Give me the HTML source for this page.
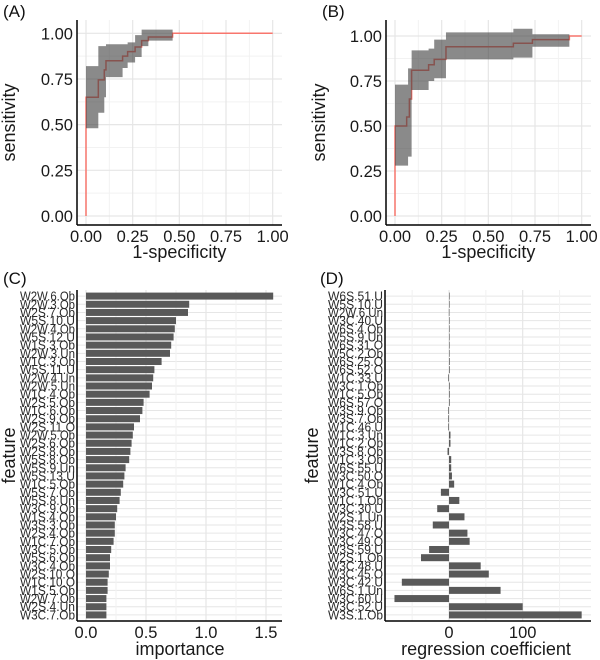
<!DOCTYPE html>
<html><head><meta charset="utf-8"><style>
body{margin:0;background:#fff}
svg{display:block;font-family:"Liberation Sans",sans-serif}
</style></head><body>
<svg id="s" width="600" height="660"></svg>
<script>
// ---- data ----
const rocA_fpr=[0,0,0.066,0.098,0.107,0.196,0.223,0.263,0.298,0.334,0.464,1.0];
const rocA_tpr=[0,0.65,0.745,0.80,0.85,0.875,0.90,0.925,0.96,0.98,1.0,1.0];
const bandA_x=[0,0.066,0.098,0.107,0.196,0.223,0.263,0.298,0.334,0.464];
const bandA_lo=[0.48,0.565,0.65,0.76,0.81,0.84,0.87,0.93,0.96];
const bandA_hi=[0.82,0.93,0.93,0.94,0.94,0.95,0.99,1.02,1.02];
const rocB_fpr=[0,0,0.0625,0.077,0.089,0.18,0.21,0.273,0.634,0.736,0.934,1.0];
const rocB_tpr=[0,0.50,0.55,0.65,0.81,0.84,0.87,0.94,0.96,0.98,1.0,1.0];
const bandB_x=[0,0.07,0.089,0.18,0.21,0.273,0.634,0.736,0.934];
const bandB_lo=[0.28,0.33,0.70,0.75,0.765,0.87,0.88,0.94];
const bandB_hi=[0.73,0.82,0.92,0.93,0.98,1.02,1.04,1.01];
const impNames=["W2W.6.Ob","W2W.3.Ob","W2S.7.Ob","W5S.10.U","W2W.4.Ob","W5S.12.U","W1S.3.Ob","W2W.3.Un","W1C.3.Ob","W5S.11.U","W2W.4.Un","W2W.5.Un","W1C.4.Ob","W2S.5.Ob","W1C.6.Ob","W2S.9.Ob","W2S.11.O","W2W.5.Ob","W2S.6.Ob","W2S.8.Ob","W5S.8.Ob","W5S.9.Un","W5S.13.U","W1C.5.Ob","W5S.7.Ob","W5S.8.Un","W3C.9.Ob","W1S.4.Ob","W3S.3.Ob","W2S.4.Ob","W1C.7.Ob","W3C.5.Ob","W5S.6.Ob","W3C.4.Ob","W2S.10.O","W1C.10.O","W1S.5.Ob","W2W.7.Ob","W2S.4.Un","W3C.7.Ob"];
const impVals=[1.56,0.86,0.85,0.75,0.74,0.73,0.71,0.70,0.63,0.57,0.56,0.55,0.53,0.48,0.47,0.45,0.40,0.39,0.38,0.37,0.36,0.33,0.32,0.31,0.29,0.28,0.26,0.25,0.24,0.24,0.23,0.21,0.20,0.20,0.19,0.18,0.18,0.17,0.17,0.17];
const impTicks=[0,0.5,1.0,1.5];
const impTickLabels=["0.0","0.5","1.0","1.5"];
const regNames=["W6S.51.U","W5S.10.U","W2W.6.Un","W3C.40.U","W6S.4.Ob","W5S.9.Un","W6S.31.O","W5C.2.Ob","W6S.25.O","W6S.52.O","W1C.33.U","W3C.1.Ob","W1C.5.Ob","W6S.57.O","W3S.9.Ob","W3S.7.Ob","W1C.46.U","W1C.3.Un","W1C.2.Ob","W3S.8.Ob","W1C.3.Ob","W6S.55.U","W3C.50.O","W1C.4.Ob","W3C.51.U","W1C.1.Ob","W3C.30.U","W2S.1.Un","W3S.58.U","W3C.47.O","W3C.49.O","W3S.59.U","W2S.1.Ob","W3C.48.U","W3C.45.O","W3C.42.U","W6S.1.Un","W3C.60.U","W3C.52.U","W3S.1.Ob"];
const regVals=[0.1,0.2,-0.2,0.2,0.3,0.3,0.5,0.5,1,1,-1,1,1,1,-1,-1,-1,2,2,-2,3,3,4,7,-11,14,-16,21,-22,25,28,-27,-38,43,54,-64,70,-74,100,180];
const regTicks=[0,100];
const regTickLabels=["0","100"];
const rocTicks=[0,0.25,0.5,0.75,1];
const rocTickLabels=["0.00","0.25","0.50","0.75","1.00"];

const NS="http://www.w3.org/2000/svg";
const svg=document.getElementById('s');
function mk(tag,attrs,parent,text){const e=document.createElementNS(NS,tag);for(const k in attrs)e.setAttribute(k,attrs[k]);if(text!==undefined)e.textContent=text;(parent||svg).appendChild(e);return e;}
const GRID="#e6e6e6",GRIDM="#f2f2f2";

function rocPanel(P){
  const g=mk('g',{});
  
  
  const sx=v=>P.x0+(P.x1-P.x0)*v, sy=v=>P.y0+(P.y1-P.y0)*v;
  for(let i=0;i<rocTicks.length-1;i++){const m=(rocTicks[i]+rocTicks[i+1])/2;
    mk('line',{x1:sx(m),x2:sx(m),y1:P.top,y2:P.bot,stroke:GRIDM,'stroke-width':1},g);
    mk('line',{x1:P.left,x2:P.right,y1:sy(m),y2:sy(m),stroke:GRIDM,'stroke-width':1},g);}
  rocTicks.forEach((t,i)=>{
    mk('line',{x1:sx(t),x2:sx(t),y1:P.top,y2:P.bot,stroke:GRID,'stroke-width':1.2},g);
    mk('line',{x1:P.left,x2:P.right,y1:sy(t),y2:sy(t),stroke:GRID,'stroke-width':1.2},g);
    const tx=mk('text',{x:sx(t),y:P.bot+17,'text-anchor':'middle','font-size':16.5,fill:'#1a1a1a'},g,rocTickLabels[i]);
    
    const ty=mk('text',{x:P.left-4,y:sy(t)+6,'text-anchor':'end','font-size':16.5,fill:'#1a1a1a'},g,rocTickLabels[i]);
    
  });
  let d="M"+sx(P.fpr[0])+","+sy(P.tpr[0]);
  for(let i=1;i<P.fpr.length;i++){d+=" L"+sx(P.fpr[i])+","+sy(P.tpr[i-1])+" L"+sx(P.fpr[i])+","+sy(P.tpr[i]);}
  const ln=mk('path',{d:d,fill:'none',stroke:'#f8766d','stroke-width':1.5},g);
  
  let up="",lo="";
  for(let i=0;i<P.bl.length;i++){up+=(i?" L":"M")+sx(P.bx[i])+","+sy(P.bh[i])+" L"+sx(P.bx[i+1])+","+sy(P.bh[i]);}
  for(let i=P.bl.length-1;i>=0;i--){lo+=" L"+sx(P.bx[i+1])+","+sy(P.bl[i])+" L"+sx(P.bx[i])+","+sy(P.bl[i]);}
  const b=mk('path',{d:up+lo+"Z",fill:'rgba(60,60,60,0.6)',stroke:'none'},g);
  
  mk('line',{x1:P.left,x2:P.left,y1:P.top,y2:P.bot,stroke:'#000','stroke-width':1.5},g);
  mk('line',{x1:P.left,x2:P.right,y1:P.bot,y2:P.bot,stroke:'#000','stroke-width':1.5},g);
  const xt=mk('text',{x:(P.x0+P.x1)/2,y:P.bot+33,'text-anchor':'middle','font-size':18,fill:'#1a1a1a'},g,'1-specificity');
  
  const yt=mk('text',{x:0,y:0,transform:`translate(${P.ylx},${(P.top+P.bot)/2}) rotate(-90)`,'text-anchor':'middle','font-size':18,fill:'#1a1a1a'},g,'sensitivity');
  
  const pl=mk('text',{x:P.lx,y:17,'font-size':17,fill:'#111'},g,P.label);
  
}
rocPanel({name:'panel-a-roc',x0:86,x1:272.7,y0:216,y1:33.3,left:77,right:282,top:20,bot:225,fpr:rocA_fpr,tpr:rocA_tpr,bx:bandA_x,bl:bandA_lo,bh:bandA_hi,ylx:15,lx:3,label:'(A)'});
rocPanel({name:'panel-b-roc',x0:395,x1:581.7,y0:216,y1:36,left:386,right:591,top:20,bot:225,fpr:rocB_fpr,tpr:rocB_tpr,bx:bandB_x,bl:bandB_lo,bh:bandB_hi,ylx:325,lx:322,label:'(B)'});

function barPanel(P){
  const g=mk('g',{});
  
  
  const sx=v=>P.zero+P.scale*v;
  const n=P.names.length, step=(P.bot-P.top-4)/n;
  const cy=i=>P.top+2+step*(i+0.5);
  for(let i=0;i<n;i++) mk('line',{x1:P.left,x2:P.right,y1:cy(i),y2:cy(i),stroke:GRID,'stroke-width':1},g);
  P.minor.forEach(t=>mk('line',{x1:sx(t),x2:sx(t),y1:P.top,y2:P.bot,stroke:GRIDM,'stroke-width':1},g));
  P.ticks.forEach((t,i)=>{
    mk('line',{x1:sx(t),x2:sx(t),y1:P.top,y2:P.bot,stroke:GRID,'stroke-width':1.2},g);
    const tx=mk('text',{x:sx(t),y:P.bot+17,'text-anchor':'middle','font-size':16.5,fill:'#1a1a1a'},g,P.tickLabels[i]);
    
  });
  P.names.forEach((nm,i)=>{
    const v=P.vals[i];
    const r=mk('rect',{x:Math.min(sx(0),sx(v)),y:cy(i)-3.5,width:Math.max(0.6,Math.abs(sx(v)-sx(0))),height:7,fill:'#595959'},g);
    
    const t=mk('text',{x:P.left-2,y:cy(i)+4.5,'text-anchor':'end','font-size':13,fill:'#2a2a2a',textLength:55,lengthAdjust:'spacingAndGlyphs'},g,nm);
    
  });
  mk('line',{x1:P.left,x2:P.left,y1:P.top,y2:P.bot,stroke:'#000','stroke-width':1.5},g);
  mk('line',{x1:P.left,x2:P.right,y1:P.bot,y2:P.bot,stroke:'#000','stroke-width':1.5},g);
  const xt=mk('text',{x:P.xtx,y:P.bot+34,'text-anchor':'middle','font-size':18,fill:'#1a1a1a'},g,P.xtitle);
  
  const yt=mk('text',{x:0,y:0,transform:`translate(${P.ylx},${(P.top+P.bot)/2}) rotate(-90)`,'text-anchor':'middle','font-size':18,fill:'#1a1a1a'},g,'feature');
  
  const pl=mk('text',{x:P.lx,y:P.top-6,'font-size':17,fill:'#111'},g,P.label);
  
}
barPanel({name:'panel-c-importance',names:impNames,vals:impVals,ticks:impTicks,tickLabels:impTickLabels,minor:[0.25,0.75,1.25],zero:86,scale:120,left:77,right:282,top:290,bot:621,xtitle:'importance',xtx:180,ylx:15,lx:3,label:'(C)'});
barPanel({name:'panel-d-regression',names:regNames,vals:regVals,ticks:regTicks,tickLabels:regTickLabels,minor:[-50,50,150],zero:449,scale:0.737,left:385,right:591,top:290,bot:621,xtitle:'regression coefficient',xtx:486,ylx:318,lx:320,label:'(D)'});
</script>
</body></html>
